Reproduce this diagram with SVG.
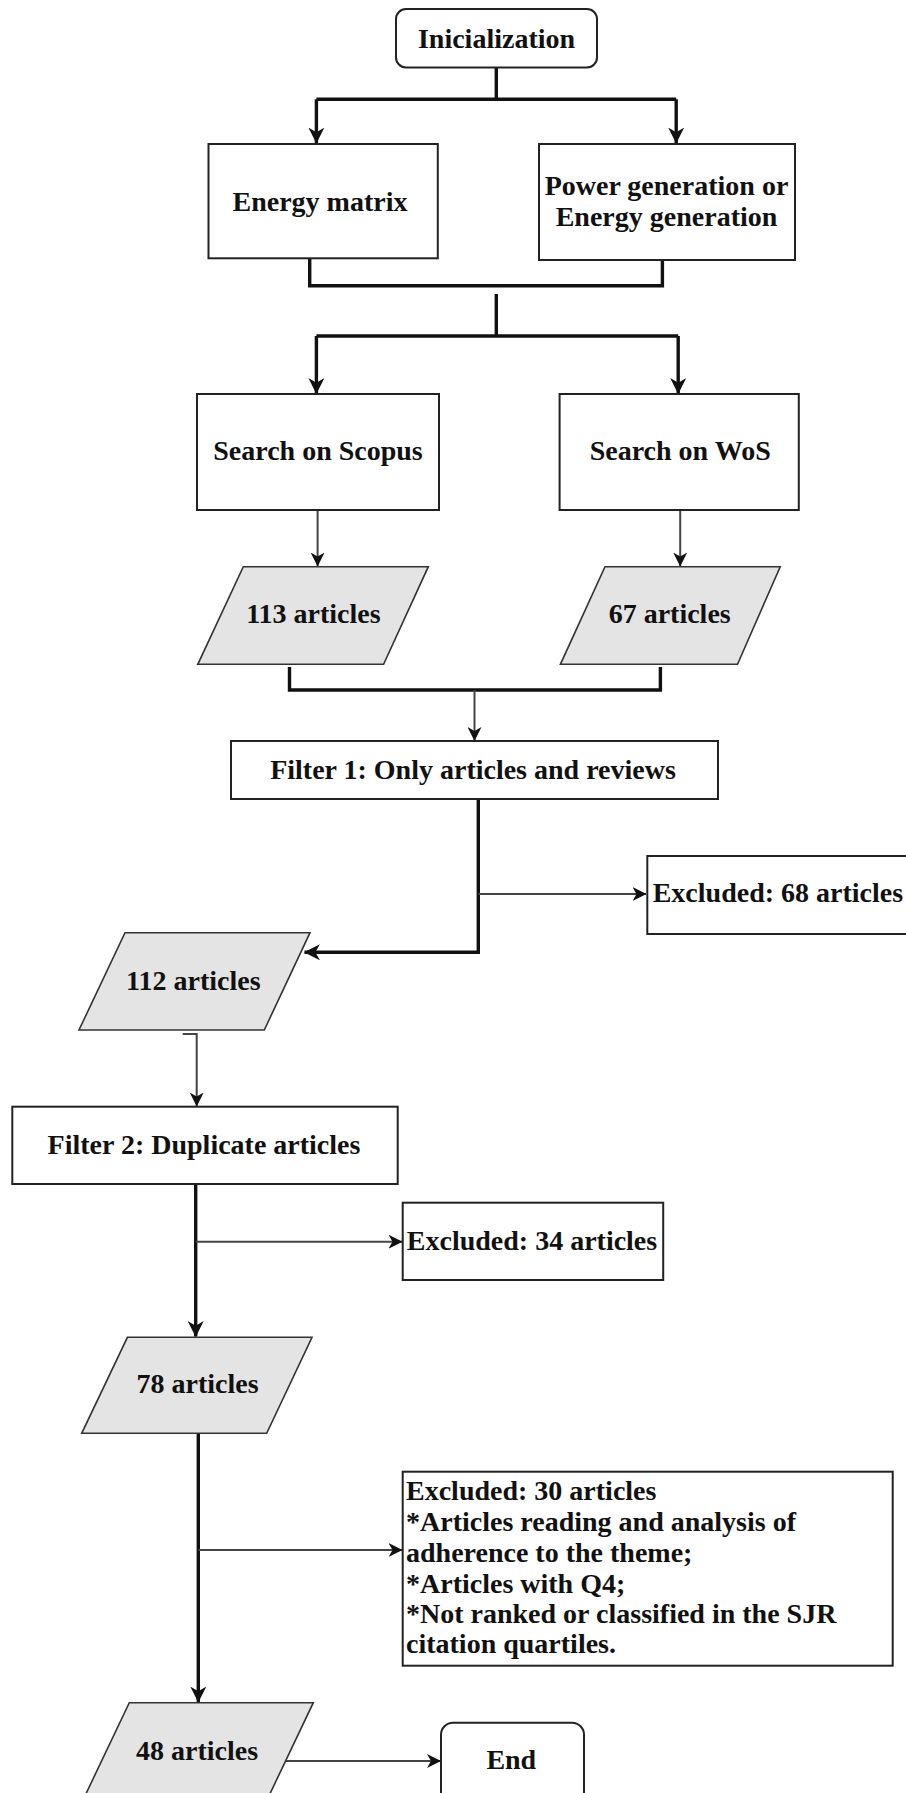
<svg xmlns="http://www.w3.org/2000/svg" width="906" height="1793" viewBox="0 0 906 1793">
<defs>
<style>
.box{fill:#fff;stroke:#222;stroke-width:2}
.para{fill:#e4e4e4;stroke:#333;stroke-width:1.6}
.t{font-family:"Liberation Serif","Times New Roman",serif;font-weight:bold;font-size:28px;fill:#111}
.c{text-anchor:middle}
.thick{fill:none;stroke:#111;stroke-width:3.4}
.thin{fill:none;stroke:#444;stroke-width:2}
</style>
<marker id="arr" viewBox="0 0 14 14" markerWidth="14" markerHeight="14" refX="13.5" refY="7" orient="auto" markerUnits="userSpaceOnUse">
<path d="M0,0 L14,7 L0,14 L4,7 z" fill="#111"/>
</marker>
<marker id="arrb" viewBox="0 0 14 14" markerWidth="16" markerHeight="16" refX="13.5" refY="7" orient="auto" markerUnits="userSpaceOnUse">
<path d="M0,0 L14,7 L0,14 L4,7 z" fill="#111"/>
</marker>
</defs>
<rect width="906" height="1793" fill="#fff"/>

<g id="connectors">
<path class="thick" d="M496.3,67.7 V99.3 M316.4,99.3 H676.2"/>
<path class="thick" d="M316.4,99.3 V143" marker-end="url(#arrb)"/>
<path class="thick" d="M676.2,99.3 V143" marker-end="url(#arrb)"/>
<path class="thick" d="M309.7,258 V285.7 H662.4 V260"/>
<path class="thick" d="M496.3,294 V336 M316.4,336 H678.2"/>
<path class="thick" d="M316.4,336 V393.5" marker-end="url(#arrb)"/>
<path class="thick" d="M678.2,336 V393.5" marker-end="url(#arrb)"/>
<path class="thin" d="M317.6,510 V566" marker-end="url(#arr)"/>
<path class="thin" d="M680.2,510 V566" marker-end="url(#arr)"/>
<path class="thick" d="M289.5,667 V690 H660.4 V667"/>
<path class="thin" d="M474.5,690 V740.5" marker-end="url(#arr)"/>
<path class="thick" d="M478.3,799 V952.3 H304.5" marker-end="url(#arrb)"/>
<path class="thin" d="M478.3,894 H646" marker-end="url(#arr)"/>
<path class="thin" d="M182.7,1034 H196.7 V1106" marker-end="url(#arr)"/>
<path class="thick" d="M195.7,1184 V1336.5" marker-end="url(#arrb)"/>
<path class="thin" d="M195.7,1241.7 H402" marker-end="url(#arr)"/>
<path class="thick" d="M198.3,1433.3 V1702" marker-end="url(#arrb)"/>
<path class="thin" d="M198.3,1550 H402" marker-end="url(#arr)"/>
<path class="thin" d="M286,1761 H440.5" marker-end="url(#arr)"/>
</g>

<g id="n-init">
<rect class="box" x="396" y="9" width="201" height="58.5" rx="10"/>
<text class="t c" x="496.5" y="48">Inicialization</text>
</g>
<g id="n-energy-matrix">
<rect class="box" x="208.5" y="144" width="229.3" height="114.3"/>
<text class="t c" x="320" y="210.5">Energy matrix</text>
</g>
<g id="n-power">
<rect class="box" x="539" y="144" width="256" height="116"/>
<text class="t c" x="666.5" y="195">Power generation or</text>
<text class="t c" x="666.5" y="225.7">Energy generation</text>
</g>
<g id="n-scopus">
<rect class="box" x="197" y="394" width="242" height="116"/>
<text class="t c" x="318" y="460">Search on Scopus</text>
</g>
<g id="n-wos">
<rect class="box" x="559.6" y="394" width="239.2" height="116"/>
<text class="t c" x="680.2" y="460">Search on WoS</text>
</g>
<g id="n-113">
<polygon class="para" points="243.3,566.7 428.3,566.7 383.6,664.3 197.8,664.3"/>
<text class="t c" x="313.4" y="623">113 articles</text>
</g>
<g id="n-67">
<polygon class="para" points="605,566.7 780.2,566.7 737.5,664.3 560.4,664.3"/>
<text class="t c" x="669.7" y="623">67 articles</text>
</g>
<g id="n-filter1">
<rect class="box" x="231" y="741" width="487" height="58"/>
<text class="t c" x="473" y="778.5">Filter 1: Only articles and reviews</text>
</g>
<g id="n-excl68">
<rect class="box" x="647.3" y="856" width="262" height="78"/>
<text class="t" x="652.7" y="902.3">Excluded: 68 articles</text>
</g>
<g id="n-112">
<polygon class="para" points="125,932.7 310,932.7 264.3,1030 79,1030"/>
<text class="t c" x="193.3" y="990">112 articles</text>
</g>
<g id="n-filter2">
<rect class="box" x="12.3" y="1106.7" width="385.4" height="77.3"/>
<text class="t c" x="204" y="1154">Filter 2: Duplicate articles</text>
</g>
<g id="n-excl34">
<rect class="box" x="402.7" y="1202.7" width="260.5" height="77.3"/>
<text class="t c" x="532" y="1250">Excluded: 34 articles</text>
</g>
<g id="n-78">
<polygon class="para" points="127.4,1337.3 312,1337.3 266.7,1433.3 81.7,1433.3"/>
<text class="t c" x="197.6" y="1393">78 articles</text>
</g>
<g id="n-excl30">
<rect class="box" x="402.7" y="1471.7" width="490" height="194"/>
<text class="t" x="406" y="1500">Excluded: 30 articles</text>
<text class="t" x="406" y="1531">*Articles reading and analysis of</text>
<text class="t" x="406" y="1561.7">adherence to the theme;</text>
<text class="t" x="406" y="1592.7">*Articles with Q4;</text>
<text class="t" x="406" y="1622.7">*Not ranked or classified in the SJR</text>
<text class="t" x="406" y="1653.3">citation quartiles.</text>
</g>
<g id="n-48">
<polygon class="para" points="129.3,1702.7 313.3,1702.7 267,1800 83,1800"/>
<text class="t c" x="197" y="1760">48 articles</text>
</g>
<g id="n-end">
<rect class="box" x="441" y="1722.7" width="143" height="100" rx="12"/>
<text class="t c" x="511.3" y="1769.3">End</text>
</g>
</svg>
